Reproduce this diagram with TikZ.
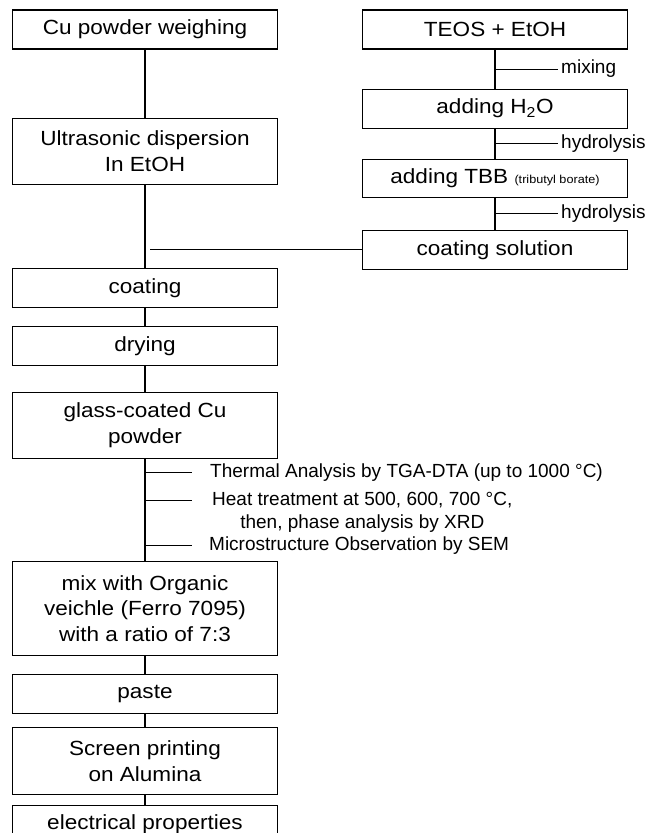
\documentclass[tikz,border=0pt]{standalone}
\usepackage{fontspec}
\setmainfont{Liberation Sans}
\newfontfamily\boxfont[FakeStretch=1.1]{Liberation Sans}
\usetikzlibrary{positioning}
\tikzstyle{block} = [draw, rectangle, line width=1.1pt,
    minimum width=265pt, minimum height=39pt, align=center,
    font=\boxfont\fontsize{20.5}{25.5}\selectfont]
\tikzstyle{note} = [inner sep=3pt, align=center,
    font=\fontsize{19}{23}\selectfont]
\tikzstyle{link} = [line width=1.1pt]
\newcommand{\aside}[1]{{\fontsize{11.5}{14}\selectfont #1}}

\begin{document}
\begin{tikzpicture}[node distance=18pt]
    \path [use as bounding box, fill=white] (0,0) rectangle (662pt,-833pt);
    \clip (0,0) rectangle (662pt,-833pt);
    % left column
    \node [block] (cu) at (145pt,-29.5pt) {Cu powder weighing};
    \node [block, minimum height=66pt, below=68pt of cu] (ultra) {Ultrasonic dispersion\\In EtOH};
    \node [block, below=83pt of ultra] (coat) {coating};
    \node [block, below=of coat] (dry) {drying};
    \node [block, minimum height=66pt, below=26pt of dry] (glass) {glass-coated Cu\\powder};
    \node [block, minimum height=94pt, below=102pt of glass] (mix) {mix with Organic\\veichle (Ferro 7095)\\with a ratio of 7:3};
    \node [block, below=of mix] (paste) {paste};
    \node [block, minimum height=67pt, below=13pt of paste] (screen) {Screen printing\\on Alumina};
    \node [block, minimum height=36pt, below=10pt of screen] (elec) {electrical properties};
    % right column
    \node [block] (teos) at (495pt,-29.5pt) {TEOS + EtOH};
    \node [block, below=39pt of teos] (water) {adding H\textsubscript{2}O};
    \node [block, minimum height=38pt, below=30pt of water] (tbb) {adding TBB \aside{(tributyl borate)}};
    \node [block, below=32pt of tbb] (sol) {coating solution};

    \draw [link] (teos) -- coordinate (mixpt) (water);
    \draw [link] (water) -- coordinate (hydpt) (tbb);
    \draw [link] (tbb) -- coordinate (hydptb) (sol);
    \node [note, right=63pt of mixpt] (mixing) {mixing};
    \node [note, right=63pt of hydpt] (hyd) {hydrolysis};
    \node [note, right=63pt of hydptb] (hydb) {hydrolysis};
    \draw [link] (mixpt) -- (mixing);
    \draw [link] (hydpt) -- (hyd);
    \draw [link] (hydptb) -- (hydb);

    \draw [link] (cu) -- (ultra);
    \draw [link] (ultra) -- (coat);
    \coordinate [left=212pt of sol.west] (merge);
    \draw [link] (sol) -- (merge);
    \draw [link] (coat) -- (dry);
    \draw [link] (dry) -- (glass);
    \draw [link] (glass) -- coordinate [pos=0.13] (tgapt) coordinate [pos=0.41] (heatpt)
        coordinate [pos=0.85] (sempt) (mix);
    \node [note, right=62pt of tgapt] (tga) {Thermal Analysis by TGA-DTA (up to 1000 °C)};
    \node [note, right=64pt of heatpt, yshift=-11.5pt] (heat) {Heat treatment at 500, 600, 700 °C,\\then, phase analysis by XRD};
    \node [note, right=61pt of sempt] (sem) {Microstructure Observation by SEM};
    \draw [link, shorten >=15pt] (tgapt) -- (tga);
    \draw [link, shorten >=17pt] (heatpt) -- (heatpt -| heat.west);
    \draw [link, shorten >=14pt] (sempt) -- (sem);
    \draw [link] (mix) -- (paste);
    \draw [link] (paste) -- (screen);
    \draw [link] (screen) -- (elec);
\end{tikzpicture}
\end{document}
